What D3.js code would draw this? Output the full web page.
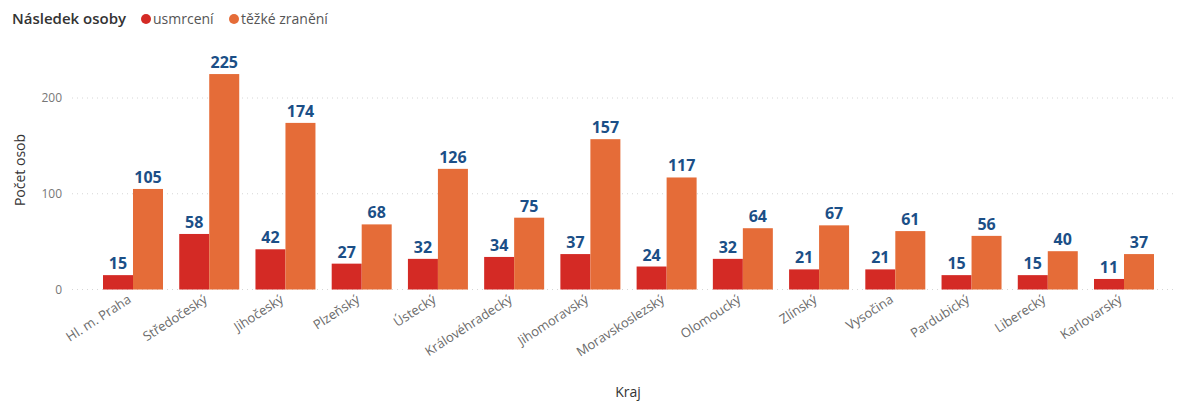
<!DOCTYPE html>
<html>
<head>
<meta charset="utf-8">
<script src="https://cdn.jsdelivr.net/npm/d3@7"></script>
<style>
  body { margin: 0; background: #fff; }
  text { font-family: "Open Sans", "Segoe UI", sans-serif; }
</style>
</head>
<body>
<div id="canvas"></div>
<script>
var kraje = ["Hl. m. Praha", "Středočeský", "Jihočeský", "Plzeňský", "Ústecký", "Královéhradecký",
  "Jihomoravský", "Moravskoslezský", "Olomoucký", "Zlínský", "Vysočina", "Pardubický", "Liberecký", "Karlovarský"];
var usmrceni = [15, 58, 42, 27, 32, 34, 37, 24, 32, 21, 21, 15, 15, 11];
var tezkeZraneni = [105, 225, 174, 68, 126, 75, 157, 117, 64, 67, 61, 56, 40, 37];
var serie = ["usmrcení", "těžké zranění"];
var yTicks = [0, 100, 200];

var width = 1177, height = 401;
var barva = ["#d42a25", "#e56c38"];

var svg = d3.select("#canvas").append("svg")
  .attr("width", width)
  .attr("height", height);

// scales
var x = d3.scaleBand().domain(kraje).range([103, 1154]).paddingInner(0.213).paddingOuter(0);
var x1 = d3.scaleBand().domain(serie).range([0, x.bandwidth()]).padding(0);
var y = d3.scaleLinear().domain([0, 200]).range([289.5, 98]);

// gridlines
svg.append("g").selectAll("line").data(yTicks).enter().append("line")
  .attr("x1", 72).attr("x2", 1175)
  .attr("y1", function(d){ return y(d); })
  .attr("y2", function(d){ return y(d); })
  .attr("stroke", "#d6d6d6")
  .attr("stroke-width", 1)
  .attr("stroke-dasharray", "1,4");

// y axis labels
var yAxis = svg.append("g").attr("transform", "translate(62,0)")
  .call(d3.axisLeft(y).tickValues(yTicks).tickSize(0).tickPadding(0));
yAxis.select(".domain").remove();
yAxis.selectAll("text").attr("fill", "#777").style("font-size", "12px")
  .style("font-family", "'Open Sans', sans-serif");

// bars
var rows = kraje.map(function(k, i){ return {kraj: k, hodnoty: [usmrceni[i], tezkeZraneni[i]]}; });

var group = svg.append("g").selectAll("g").data(rows).enter().append("g")
  .attr("transform", function(d){ return "translate(" + x(d.kraj) + ",0)"; });

group.selectAll("rect").data(function(d){ return d.hodnoty.map(function(v, j){ return {s: serie[j], v: v, j: j}; }); })
  .enter().append("rect")
  .attr("x", function(d){ return x1(d.s); })
  .attr("width", x1.bandwidth())
  .attr("y", function(d){ return y(d.v); })
  .attr("height", function(d){ return y(0) - y(d.v); })
  .attr("fill", function(d){ return barva[d.j]; });

group.selectAll("text").data(function(d){ return d.hodnoty.map(function(v, j){ return {s: serie[j], v: v}; }); })
  .enter().append("text")
  .attr("x", function(d){ return x1(d.s) + x1.bandwidth() / 2; })
  .attr("y", function(d){ return y(d.v) - 6; })
  .attr("text-anchor", "middle")
  .attr("fill", "#1b4f87")
  .style("font-size", "16px")
  .style("font-weight", "bold")
  .text(function(d){ return d.v; });

// x axis labels
var xAxis = svg.append("g").attr("transform", "translate(0,294)")
  .call(d3.axisBottom(x).tickSize(0).tickPadding(0));
xAxis.select(".domain").remove();
xAxis.selectAll("text")
  .attr("fill", "#6b6b6b")
  .style("font-size", "13px")
  .style("font-family", "'Open Sans', sans-serif")
  .attr("text-anchor", "end")
  .attr("dy", "0.7em")
  .attr("transform", "translate(-6,0) rotate(-33)");

// axis titles
svg.append("text")
  .attr("transform", "translate(25,170) rotate(-90)")
  .attr("text-anchor", "middle")
  .attr("fill", "#333")
  .style("font-size", "14px")
  .text("Počet osob");

svg.append("text")
  .attr("x", 628).attr("y", 397)
  .attr("text-anchor", "middle")
  .attr("fill", "#333")
  .style("font-size", "14px")
  .text("Kraj");

// legend
var legend = svg.append("g");
legend.append("text").attr("x", 12).attr("y", 24)
  .attr("fill", "#333")
  .style("font-size", "15px")
  .style("font-weight", "600")
  .text("Následek osoby");
var legX = [146, 234];
serie.forEach(function(s, i){
  legend.append("circle").attr("cx", legX[i]).attr("cy", 19).attr("r", 5).attr("fill", barva[i]);
  legend.append("text").attr("x", legX[i] + 7).attr("y", 24)
    .attr("fill", "#555")
    .style("font-size", "14px")
    .text(s);
});
</script>
</body>
</html>
